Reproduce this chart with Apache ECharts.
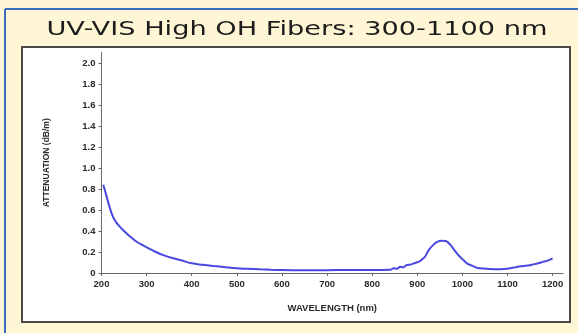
<!DOCTYPE html>
<html>
<head>
<meta charset="utf-8">
<script src="https://cdn.jsdelivr.net/npm/echarts@6/dist/echarts.min.js"></script>
<style>
html,body{margin:0;padding:0;background:#fff6d6;overflow:hidden;}
#chart{width:578px;height:333px;}
</style>
</head>
<body>
<div id="chart"></div>
<script>
const titleText = 'UV-VIS High OH Fibers: 300-1100 nm';
const xAxisName = 'WAVELENGTH (nm)';
const yAxisName = 'ATTENUATION (dB/m)';
const xTicks = [200, 300, 400, 500, 600, 700, 800, 900, 1000, 1100, 1200];
const yTicks = [0, 0.2, 0.4, 0.6, 0.8, 1.0, 1.2, 1.4, 1.6, 1.8, 2.0];
const wavelength = [204, 210, 215, 220, 226, 233, 241, 250, 260, 274, 287, 300, 318, 337, 355, 374, 400, 425, 448, 475, 500, 525, 551, 575, 596, 620, 650, 700, 750, 800, 840, 848, 855, 862, 868, 877, 885, 895, 905, 912, 917, 925, 936, 945, 954, 963, 973, 981, 991, 1002, 1010, 1021, 1032, 1047, 1060, 1084, 1100, 1121, 1140, 1157, 1170, 1180, 1190, 1200];
const attenuation = [0.84, 0.75, 0.67, 0.6, 0.53, 0.48, 0.44, 0.4, 0.36, 0.31, 0.275, 0.245, 0.205, 0.17, 0.145, 0.124, 0.092, 0.078, 0.067, 0.055, 0.045, 0.04, 0.035, 0.031, 0.029, 0.027, 0.027, 0.027, 0.028, 0.028, 0.03, 0.045, 0.04, 0.06, 0.055, 0.076, 0.08, 0.095, 0.11, 0.135, 0.155, 0.215, 0.27, 0.298, 0.308, 0.304, 0.27, 0.225, 0.17, 0.125, 0.092, 0.07, 0.05, 0.042, 0.038, 0.036, 0.04, 0.058, 0.068, 0.082, 0.095, 0.108, 0.12, 0.14];

const chart = echarts.init(document.getElementById('chart'), null, {renderer: 'canvas'});
const axisFont = {fontFamily: 'Liberation Sans, Arial, sans-serif', fontWeight: 'bold', fontSize: 9.5, color: '#2a2a2a'};
chart.setOption({
  animation: false,
  backgroundColor: '#fff6d6',
  graphic: [
    {type: 'line', z: -10, shape: {x1: 5, y1: 9, x2: 578, y2: 9}, style: {stroke: '#3b6cc0', lineWidth: 2}},
    {type: 'line', z: -10, shape: {x1: 5, y1: 9, x2: 5, y2: 333}, style: {stroke: '#3b6cc0', lineWidth: 2}},
    {type: 'rect', z: -9, shape: {x: 22, y: 47, width: 548, height: 275}, style: {fill: '#ffffff', stroke: '#4a4a4a', lineWidth: 2}},
    {type: 'text', x: 297, y: 30, scaleX: 1.36, scaleY: 1,
      style: {text: titleText, x: 0, y: 0, align: 'center', verticalAlign: 'middle',
        font: '500 20px "DejaVu Sans"', fill: '#1c1c1c'}}
  ],
  grid: {left: 101.5, right: 15, top: 52.5, bottom: 60, containLabel: false},
  xAxis: {
    type: 'value', min: 200, max: 1223,
    name: xAxisName, nameLocation: 'middle', nameGap: 30,
    nameTextStyle: axisFont,
    axisLine: {lineStyle: {color: '#666', width: 1}},
    axisTick: {length: 3, customValues: xTicks, lineStyle: {color: '#666'}},
    axisLabel: Object.assign({margin: 6, customValues: xTicks, formatter: v => String(v)}, axisFont),
    splitLine: {show: false}
  },
  yAxis: {
    type: 'value', min: 0, max: 2.1,
    name: yAxisName, nameLocation: 'middle', nameGap: 50,
    nameTextStyle: Object.assign({}, axisFont, {fontSize: 8.5}),
    axisLine: {show: true, lineStyle: {color: '#666', width: 1}},
    axisTick: {show: true, length: 3, customValues: yTicks, lineStyle: {color: '#666'}},
    axisLabel: Object.assign({margin: 6, customValues: yTicks, formatter: v => v === 0 ? '0' : v.toFixed(1)}, axisFont),
    splitLine: {show: false}
  },
  series: [{
    type: 'line', smooth: 0.4, showSymbol: false,
    data: wavelength.map((w, i) => [w, attenuation[i]]),
    lineStyle: {color: '#4848e0', width: 2}
  }]
});
</script>
</body>
</html>
